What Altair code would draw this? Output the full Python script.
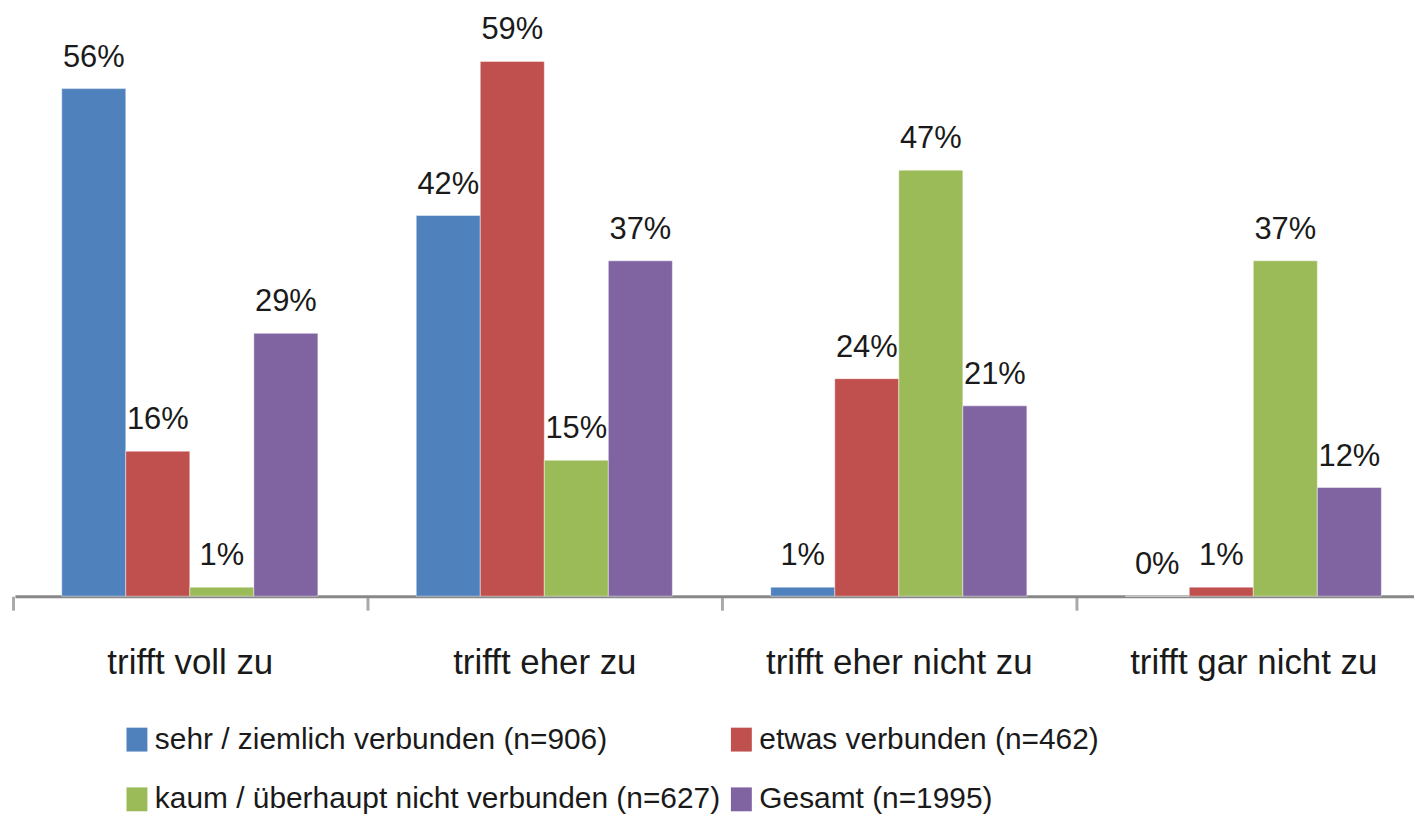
import altair as alt
import pandas as pd

categories = ["trifft voll zu", "trifft eher zu", "trifft eher nicht zu", "trifft gar nicht zu"]
series = [
    "sehr / ziemlich verbunden (n=906)",
    "etwas verbunden (n=462)",
    "kaum / überhaupt nicht verbunden (n=627)",
    "Gesamt (n=1995)",
]
values_sehr = [56, 42, 1, 0]
values_etwas = [16, 59, 24, 1]
values_kaum = [1, 15, 47, 37]
values_gesamt = [29, 37, 21, 12]
colors = ["#4F81BD", "#C0504D", "#9BBB59", "#8064A2"]

rows = []
for s, vals in zip(series, [values_sehr, values_etwas, values_kaum, values_gesamt]):
    for c, v in zip(categories, vals):
        rows.append({"Kategorie": c, "Gruppe": s, "Wert": v, "Label": f"{v}%"})
df = pd.DataFrame(rows)

FONT = "Liberation Sans, Arial, sans-serif"
TXT = "#1a1a1a"

W = 1405
P_IN, P_OUT = 0.2775, 0.112
STEP = W / (len(categories) - P_IN + 2 * P_OUT)

x = alt.X(
    "Kategorie:N",
    sort=categories,
    title=None,
    scale=alt.Scale(paddingInner=P_IN, paddingOuter=P_OUT, align=0.589),
    axis=alt.Axis(
        domain=True, domainColor="#888888", domainWidth=3,
        ticks=True, tickColor="#aaaaaa", tickWidth=3, tickSize=14,
        tickOffset=-STEP / 2, labelOffset=STEP / 2,
        labelFont=FONT, labelFontSize=35, labelColor=TXT, labelAngle=0,
        labelPadding=64, labelBaseline="alphabetic", labelLimit=600, grid=False,
    ),
)
xo = alt.XOffset("Gruppe:N", sort=series, scale=alt.Scale(paddingInner=0, paddingOuter=0))
y = alt.Y("Wert:Q", scale=alt.Scale(domain=[0, 64.7], nice=False), axis=None)
color = alt.Color(
    "Gruppe:N",
    sort=series,
    scale=alt.Scale(domain=series, range=colors),
    legend=alt.Legend(
        orient="none", legendX=107.5, legendY=718, columns=2, direction="horizontal",
        title=None,
        symbolType="M-0.875,-1L0.875,-1L0.875,1L-0.875,1Z", symbolSize=576,
        symbolStrokeWidth=0, symbolOpacity=1,
        labelFont=FONT, labelFontSize=30, labelColor=TXT, labelLimit=1000,
        labelOffset=3, columnPadding=6, rowPadding=30, padding=0,
    ),
)

bars = alt.Chart(df).mark_bar(stroke="white", strokeOpacity=0.45, strokeWidth=1).encode(
    x=x, xOffset=xo, y=y, color=color
)
text = alt.Chart(df).mark_text(
    dy=-22, baseline="alphabetic", fontSize=31, font=FONT, color=TXT
).encode(x=x, xOffset=xo, y=y, text="Label:N")

chart = (
    alt.layer(bars, text)
    .properties(
        width=W,
        height=589,
        padding={"left": 7, "top": 0, "right": 0, "bottom": 220},
        autosize=alt.AutoSizeParams(type="none"),
        background="white",
    )
    .configure_view(stroke=None)
)

chart.save("out.html", embed_options={"renderer": "svg", "actions": False})
